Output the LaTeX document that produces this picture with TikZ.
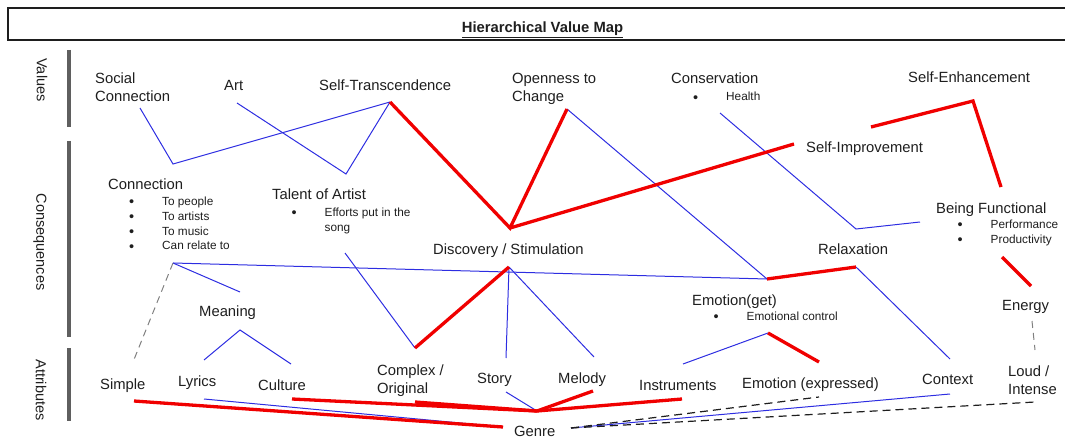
\documentclass[tikz,border=0pt]{standalone}
\usepackage{fontspec}
\setmainfont{Liberation Sans}
\definecolor{lnblue}{RGB}{45,45,225}
\definecolor{lnred}{RGB}{240,0,0}
\definecolor{txt}{RGB}{30,30,30}
\definecolor{barc}{RGB}{95,95,95}
\newcommand\bul{\makebox[33pt][l]{\raisebox{-1.2pt}{\fontsize{14.5}{14.5}\selectfont\textbullet}}}
\newcommand\nobul{\makebox[33pt][l]{}}
\begin{document}
\begin{tikzpicture}[x=1pt,y=-1pt,
 lbl/.style={font=\fontsize{14.8}{18}\selectfont, text=txt, inner sep=0pt, anchor=base west, align=left},
 sml/.style={font=\fontsize{11.8}{14.8}\selectfont, text=txt, inner sep=0pt, anchor=base west, align=left},
 vlbl/.style={font=\fontsize{14.5}{17}\selectfont, text=txt, inner sep=0pt, rotate=-90},
 bl/.style={draw=lnblue, line width=1pt},
 rd/.style={draw=lnred, line width=3.3pt},
 gdash/.style={draw=gray, line width=1pt, dash pattern=on 7pt off 5pt},
 kdash/.style={draw=txt, line width=1.2pt, dash pattern=on 8pt off 5pt},
 barln/.style={draw=barc, line width=4pt}]
\useasboundingbox (0,0) rectangle (1065,438);

% title box
\draw[line width=1.2pt, draw=txt] (1070,8) -| (8,40) -- (1070,40);
\node[font=\bfseries\fontsize{14.8}{18}\selectfont, text=txt, inner sep=0pt, anchor=base] (title) at (542.5,33) {\underline{Hierarchical Value Map}};

% level bars and labels
\draw[barln] (68.5,50) -- (68.5,127);
\draw[barln] (68.5,141) -- (68.5,337);
\draw[barln] (68.5,348) -- (68.5,421);
\node[vlbl] (values) at (42,80) {Values};
\node[vlbl] (conseq) at (40,242) {Consequences};
\node[vlbl] (attrib) at (41,390) {Attributes};

% Values (multi-line nodes are placed by the baseline of their last line)
\node[lbl] (socialconn) at (95,101.3) {Social\\Connection};
\node[lbl] (art) at (224,90.3) {Art};
\node[lbl] (selftrans) at (319,90.3) {Self-Transcendence};
\node[lbl] (openness) at (512,101.3) {Openness to\\Change};
\node[lbl] (conservation) at (671,83.3) {Conservation};
\node[sml] (health) at (693,101) {\bul Health};
\node[lbl] (selfenh) at (908,82.3) {Self-Enhancement};

% Consequences
\node[lbl] (selfimp) at (806,152.3) {Self-Improvement};
\node[lbl] (connection) at (108,189.5) {Connection};
\node[sml] (connlist) at (129,249.9) {\bul To people\\\bul To artists\\\bul To music\\\bul Can relate to};
\node[lbl] (talent) at (272,200) {Talent of Artist};
\node[sml] (talentlist) at (291.5,231.5) {\bul Efforts put in the\\\nobul song};
\node[lbl] (discovery) at (433,254.3) {Discovery / Stimulation};
\node[lbl] (relax) at (818,255) {Relaxation};
\node[lbl] (beingf) at (936,214) {Being Functional};
\node[sml] (bflist) at (957.5,243.1) {\bul Performance\\\bul Productivity};
\node[lbl] (meaning) at (199,316.5) {Meaning};
\node[lbl] (emoget) at (692,305.3) {Emotion(get)};
\node[sml] (emogetlist) at (713.5,320.3) {\bul Emotional control};
\node[lbl] (energy) at (1002,310.3) {Energy};

% Attributes
\node[lbl] (simple) at (100,389) {Simple};
\node[lbl] (lyrics) at (178,386) {Lyrics};
\node[lbl] (culture) at (258,390) {Culture};
\node[lbl] (complex) at (377,393) {Complex /\\Original};
\node[lbl] (story) at (477,383.5) {Story};
\node[lbl] (melody) at (558,383) {Melody};
\node[lbl] (instruments) at (639,390) {Instruments};
\node[lbl] (emoexp) at (742,388) {Emotion (expressed)};
\node[lbl] (context) at (922,384.5) {Context};
\node[lbl] (loud) at (1008,394.5) {Loud /\\Intense};
\node[lbl] (genre) at (514,436.5) {Genre};

% junction coordinates
\coordinate (SCb) at (140,108);
\coordinate (ARb) at (237,103);
\coordinate (STb) at (390,102);
\coordinate (OCb) at (567,109);
\coordinate (CVb) at (720,113);
\coordinate (SEl) at (871,127);
\coordinate (SEp) at (973,101);
\coordinate (SEd) at (1001,187);
\coordinate (SIl) at (794,144);
\coordinate (CNt) at (173,164);
\coordinate (TAt) at (346,174);
\coordinate (DSt) at (510,228);
\coordinate (BFl) at (920,222);
\coordinate (CVj) at (856,229);
\coordinate (BFb) at (1002,257);
\coordinate (ENt) at (1031,286);
\coordinate (ENb) at (1032,321);
\coordinate (CNb) at (173,263);
\coordinate (MNt) at (240,292);
\coordinate (TAb) at (345,253);
\coordinate (DSb) at (509,267);
\coordinate (RXl) at (767,279);
\coordinate (RXr) at (856,267);
\coordinate (MNb) at (240,330);
\coordinate (EGb) at (768,333);
\coordinate (SMt) at (133,362);
\coordinate (LYt) at (204,360);
\coordinate (CUt) at (291,364);
\coordinate (CXt) at (415,348);
\coordinate (STt) at (506,358);
\coordinate (MLt) at (594,357);
\coordinate (INt) at (683,364);
\coordinate (EXt) at (819,362);
\coordinate (CTt) at (950,359);
\coordinate (LDt) at (1035,350);
\coordinate (SMb) at (134,401);
\coordinate (LYb) at (204,399);
\coordinate (CUb) at (292,399);
\coordinate (CXb) at (415,402);
\coordinate (STyb) at (506,392);
\coordinate (MLb) at (593,391);
\coordinate (INb) at (682,399);
\coordinate (EXb) at (819,397);
\coordinate (CTb) at (950,394);
\coordinate (LDb) at (1035,402);
\coordinate (GNl) at (503,427);
\coordinate (GNt) at (537,411);
\coordinate (GNr) at (571,428);

% blue links
\draw[bl] (SCb) -- (CNt) -- (STb);
\draw[bl] (ARb) -- (TAt) -- (STb);
\draw[bl] (OCb) -- (RXl);
\draw[bl] (CVb) -- (CVj) -- (BFl);
\draw[bl] (CNb) -- (RXl);
\draw[bl] (CNb) -- (MNt);
\draw[bl] (TAb) -- (CXt);
\draw[bl] (DSb) -- (STt);
\draw[bl] (DSb) -- (MLt);
\draw[bl] (RXr) -- (CTt);
\draw[bl] (LYt) -- (MNb) -- (CUt);
\draw[bl] (INt) -- (EGb);
\draw[bl] (LYb) -- (GNl);
\draw[bl] (STyb) -- (GNt);
\draw[bl] (GNr) -- (CTb);

% dashed links
\draw[gdash] (CNb) -- (SMt);
\draw[gdash] (ENb) -- (LDt);
\draw[kdash] (GNr) -- (EXb);
\draw[kdash] (GNr) -- (LDb);

% red links
\draw[rd] (STb) -- (DSt) -- (OCb);
\draw[rd] (DSt) -- (SIl);
\draw[rd, line join=miter] (SEl) -- (SEp) -- (SEd);
\draw[rd] (BFb) -- (ENt);
\draw[rd] (CXt) -- (DSb);
\draw[rd] (RXl) -- (RXr);
\draw[rd] (EGb) -- (EXt);
\draw[rd] (SMb) -- (GNl);
\draw[rd] (CUb) -- (GNt);
\draw[rd] (CXb) -- (GNt);
\draw[rd] (MLb) -- (GNt);
\draw[rd] (INb) -- (GNt);
\end{tikzpicture}
\end{document}
